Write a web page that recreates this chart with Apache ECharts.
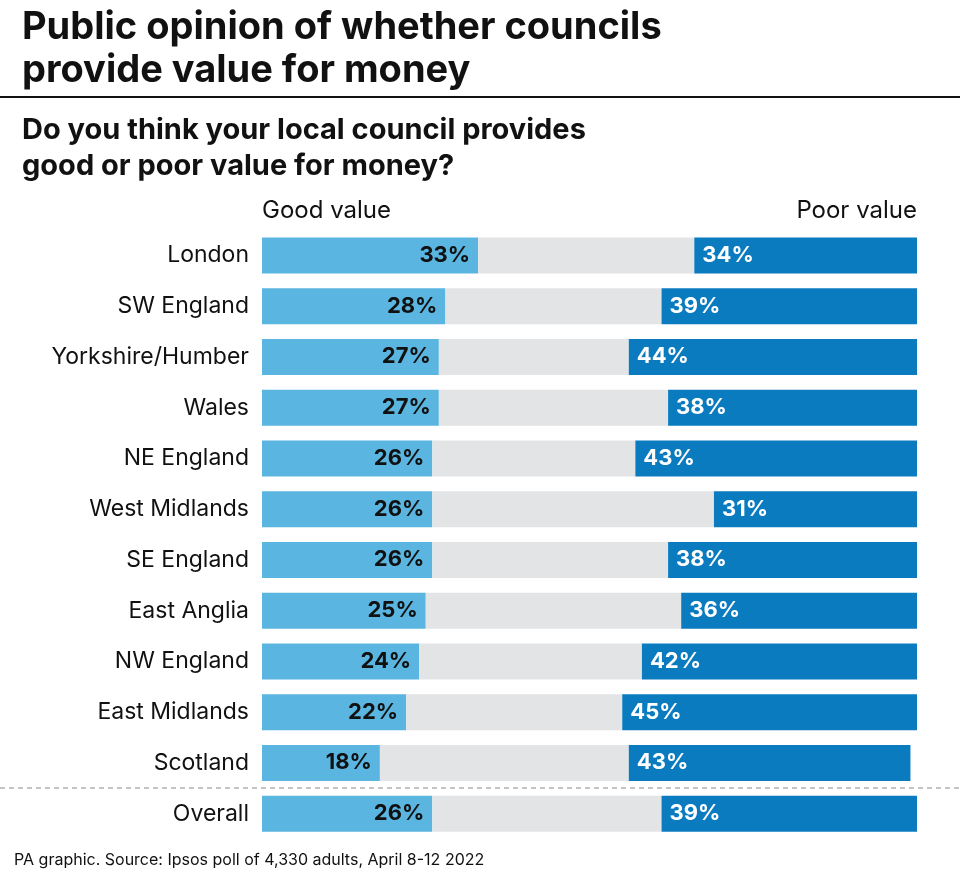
<!DOCTYPE html>
<html><head><meta charset="utf-8">
<script src="https://cdn.jsdelivr.net/npm/echarts@6/dist/echarts.min.js"></script>
<style>html,body{margin:0;padding:0;background:#fff}#main{width:960px;height:888px}</style>
</head><body><div id="main"></div>
<script>
const regions = ['London','SW England','Yorkshire/Humber','Wales','NE England','West Midlands','SE England','East Anglia','NW England','East Midlands','Scotland','Overall']
const goodValue = [33,28,27,27,26,26,26,25,24,22,18,26]
const poorValue = [34,39,44,38,43,31,38,36,42,45,43,39]
const neither = [33,33,29,35,31,43,36,39,34,33,38,35]

const font = 'Inter'
const chart = echarts.init(document.getElementById('main'))
chart.setOption({
  animation: false,
  textStyle: { fontFamily: font },
  grid: { left: 262, right: 43, top: 230, bottom: 49 },
  xAxis: { type: 'value', min: 0, max: 100, show: false },
  yAxis: {
    type: 'category', data: regions, inverse: true,
    axisLine: { show: false }, axisTick: { show: false },
    axisLabel: { color: '#111', fontSize: 23, margin: 13, fontFamily: font }
  },
  graphic: [
    { type: 'text', left: 22, top: 6, style: { text: 'Public opinion of whether councils\nprovide value for money', fill: '#111', font: 'bold 38px ' + font, lineHeight: 43 } },
    { type: 'line', shape: { x1: 0, y1: 97, x2: 960, y2: 97 }, style: { stroke: '#111', lineWidth: 2 } },
    { type: 'text', left: 22, top: 112, style: { text: 'Do you think your local council provides\ngood or poor value for money?', fill: '#111', font: 'bold 29px ' + font, lineHeight: 36 } },
    { type: 'text', left: 262, top: 199, style: { text: 'Good value', fill: '#111', font: '24px ' + font } },
    { type: 'text', right: 43, top: 199, style: { text: 'Poor value', fill: '#111', font: '24px ' + font, align: 'right' } },
    { type: 'line', shape: { x1: 0, y1: 788, x2: 960, y2: 788 }, style: { stroke: '#888', lineWidth: 1, lineDash: [5, 4] } },
    { type: 'text', left: 14, top: 852, style: { text: 'PA graphic. Source: Ipsos poll of 4,330 adults, April 8-12 2022', fill: '#111', font: '16px ' + font } }
  ],
  series: [
    { name: 'Good', type: 'bar', stack: 't', data: goodValue, barWidth: 36, itemStyle: { color: '#5ab5e0' },
      label: { show: true, position: 'insideRight', formatter: '{c}%', color: '#111', fontSize: 22, fontWeight: 'bold', distance: 8 } },
    { name: 'Neither', type: 'bar', stack: 't', data: neither, barWidth: 36, itemStyle: { color: '#e3e4e6' } },
    { name: 'Poor', type: 'bar', stack: 't', data: poorValue, barWidth: 36, itemStyle: { color: '#0a7bbf' },
      label: { show: true, position: 'insideLeft', formatter: '{c}%', color: '#fff', fontSize: 22, fontWeight: 'bold', distance: 8 } }
  ]
})
</script></body></html>
